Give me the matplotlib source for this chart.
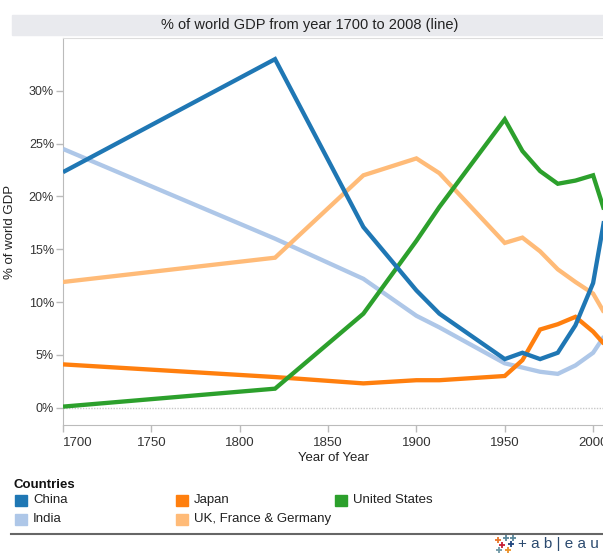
import matplotlib.pyplot as plt
from matplotlib.patches import Rectangle
from matplotlib.lines import Line2D

plt.rcParams["font.family"] = ["Liberation Sans", "DejaVu Sans"]

# data (% of world GDP)
years = [1700, 1820, 1870, 1900, 1913, 1950, 1960, 1970, 1980, 1990, 2000, 2008]
china = [22.3, 33.0, 17.1, 11.1, 8.9, 4.6, 5.2, 4.6, 5.2, 7.8, 11.8, 19.4]
india = [24.5, 16.0, 12.2, 8.7, 7.6, 4.2, 3.8, 3.4, 3.2, 4.0, 5.2, 7.2]
japan = [4.1, 2.9, 2.3, 2.6, 2.6, 3.0, 4.5, 7.4, 7.9, 8.6, 7.2, 5.7]
ufg = [11.9, 14.2, 22.0, 23.6, 22.2, 15.6, 16.1, 14.8, 13.1, 11.9, 10.8, 8.5]
usa = [0.1, 1.8, 8.9, 15.8, 19.0, 27.3, 24.3, 22.4, 21.2, 21.5, 22.0, 17.8]

names = ["China", "India", "Japan", "UK, France & Germany", "United States"]
series = [china, india, japan, ufg, usa]
colors = ["#1f77b4", "#aec7e8", "#ff7f0e", "#ffbb78", "#2ca02c"]
xticks = [1700, 1750, 1800, 1850, 1900, 1950, 2000]
yticks = [0, 5, 10, 15, 20, 25, 30]

W, H = 603, 554
fig = plt.figure(figsize=(W / 100, H / 100), dpi=100)

# title bar
fig.patches.append(Rectangle((12 / W, 1 - 35 / H), 1 - 12 / W, 20 / H,
                             transform=fig.transFigure, color="#e9eaee", zorder=0))
fig.text(310 / W, 1 - 25 / H, "% of world GDP from year 1700 to 2008 (line)",
         ha="center", va="center", fontsize=10.5, color="#222222")

ax = fig.add_axes([63 / W, 1 - 425 / H, 1 - 63 / W, (425 - 38) / H])
order = [1, 3, 2, 4, 0]
for i in order:
    ax.plot(years, series[i], color=colors[i], lw=3.1, solid_capstyle="butt",
            solid_joinstyle="miter", zorder=3)

ax.axhline(0, color="#c8c8c8", lw=1, ls=(0, (1, 1)), zorder=1)
ax.set_xlim(1700, 2005.6)
ax.set_ylim(-1.64, 35)
ax.set_xticks(xticks)
ax.set_yticks(yticks)
ax.set_yticklabels([f"{v}%" for v in yticks])
ax.tick_params(axis="both", colors="#bbbbbb", labelcolor="#333333", labelsize=9,
               length=5, width=1)
ax.tick_params(axis="x", pad=4, labelsize=9.5)
ax.tick_params(axis="y", pad=1.5)
ax.get_xticklabels()[0].set_horizontalalignment("left")
ax.get_xticklabels()[0].set_x(1701.5)
ax.spines["right"].set_visible(False)
ax.spines["left"].set_color("#bbbbbb")
ax.spines["bottom"].set_color("#bbbbbb")
ax.spines["top"].set_color("#dddddd")
ax.set_ylabel("% of world GDP", fontsize=9.5, color="#222222")
ax.yaxis.set_label_coords(-0.087, 0.5)
ax.set_xlabel("Year of Year", fontsize=9.5, color="#222222", labelpad=2)

# legend
fig.text(13 / W, 1 - 485 / H, "Countries", fontsize=9.5, fontweight="bold",
         va="center", ha="left", color="#111111")
legend_pos = {"China": (15, 500), "Japan": (176, 500), "United States": (335, 500),
              "India": (15, 519), "UK, France & Germany": (176, 519)}
for name, col in zip(names, colors):
    lx, ly = legend_pos[name]
    fig.patches.append(Rectangle((lx / W, 1 - (ly + 5.5) / H), 12 / W, 11 / H,
                                 transform=fig.transFigure, color=col))
    fig.text((lx + 18) / W, 1 - ly / H, name, fontsize=9.5, va="center",
             ha="left", color="#222222")

fig.add_artist(Line2D([11 / W, 1], [1 - 534 / H, 1 - 534 / H],
                      transform=fig.transFigure, color="#666666", lw=1.5))

# tableau logo: small coloured crosses, then the word mark
for dx, dy, c in [(0, -4, "#e8762b"), (8, -6, "#5b879b"), (4, 1, "#c72035"),
                  (13, 0, "#1f457e"), (1, 6, "#7099a6"), (10, 6, "#eb9129"),
                  (15, -6, "#59879b")]:
    fig.add_artist(Line2D([(498 + dx) / W], [1 - (544 + dy) / H], marker="+",
                          markersize=4.5, markeredgewidth=1.3, color=c,
                          transform=fig.transFigure))
fig.text(518 / W, 1 - 544 / H, "+ a b | e a u", fontsize=11, color="#2b4a6f",
         ha="left", va="center")

fig.savefig("out.png", dpi=100)
